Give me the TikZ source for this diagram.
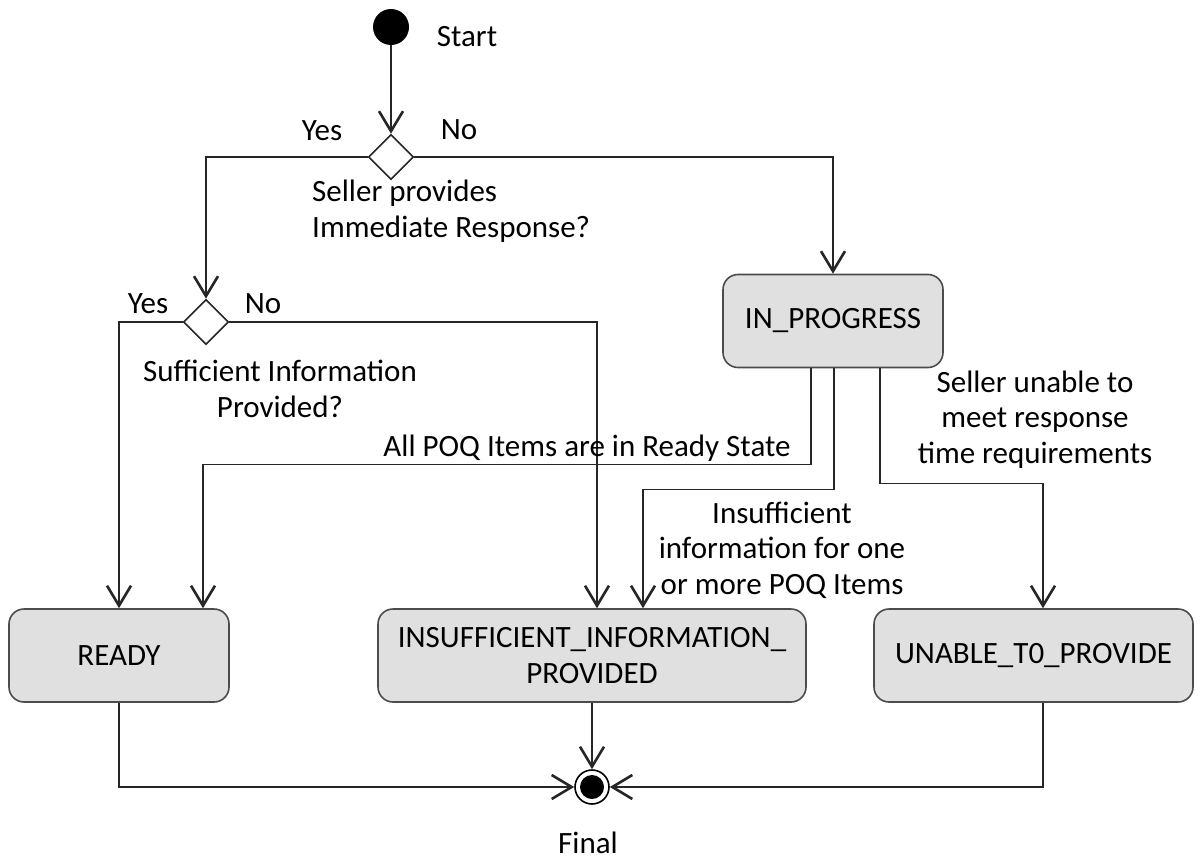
\documentclass[tikz,border=0pt]{standalone}
\usepackage{fontspec}
\setmainfont{Carlito}
\usetikzlibrary{shapes.geometric,arrows.meta}
\begin{document}
\begin{tikzpicture}[x=1pt,y=-1pt,
  every node/.style={font=\fontsize{31}{35.5}\selectfont, inner sep=0pt},
  line/.style={draw=black!85, line width=1.6pt},
  arr/.style={line, -{Straight Barb[length=20pt,width=24pt,line width=2.6pt]}},
  statebox/.style={draw=black!70, line width=1.6pt, fill=black!12, rounded corners=15pt, minimum height=93pt, align=center},
  decision/.style={diamond, draw=black!85, line width=1.6pt, fill=white, minimum width=45pt, minimum height=45pt, inner sep=0pt},
  lbl/.style={anchor=base, align=center}
]
\useasboundingbox (0,0) rectangle (1202,859);

\node[circle, fill=black, minimum size=36pt] (start) at (391,27) {};
\node[lbl] (startl) at (467,47) {Start};

\node[decision] (d1) at (391,157) {};
\node[lbl] (yes1) at (322,140) {Yes};
\node[lbl] (no1) at (459,139) {No};
\node[lbl, align=left, anchor=base west] (q1) at (312,237) {Seller provides\\Immediate Response?};

\node[decision] (d2) at (206,322) {};
\node[lbl] (yes2) at (148,313) {Yes};
\node[lbl] (no2) at (263,313) {No};
\node[lbl] (q2) at (280,417) {Sufficient Information\\Provided?};

\node[statebox, minimum width=220pt] (prog) at (833,321) {IN\_PROGRESS};
\node[statebox, minimum width=220pt] (ready) at (119,655.5) {READY};
\node[statebox, minimum width=428pt] (insuf) at (592,655.5) {INSUFFICIENT\_INFORMATION\_\\PROVIDED};
\node[statebox, minimum width=319pt] (unable) at (1033.5,655.5) {UNABLE\_T0\_PROVIDE};

\node[circle, draw=black, line width=1.6pt, minimum size=34pt, fill=white] (final) at (592,787) {};
\node[circle, fill=black, minimum size=24pt] (finaldot) at (final.center) {};
\node[lbl] (finall) at (588,853) {Final};

\draw[arr] (start) -- (d1);
\draw[arr] (d1.west) -| (d2.north);
\draw[arr] (d1.east) -| (prog.north);
\draw[arr] (d2.west) -| (ready.north);
\draw[arr] (d2.east) -| ([xshift=5pt]insuf.north);

\draw[arr] ([xshift=-22pt]prog.south) -- ++(0,96) -| ([xshift=84pt]ready.north);
\node[lbl] (allready) at (587,456) {All POQ Items are in Ready State};

\draw[arr] ([xshift=1pt]prog.south) -- ++(0,121) -| ([xshift=51pt]insuf.north);
\node[lbl] (insufl) at (782,594) {Insufficient\\information for one\\or more POQ Items};

\draw[arr] ([xshift=47pt]prog.south) -- ++(0,115) -| ([xshift=9.5pt]unable.north);
\node[lbl] (unablel) at (1035,463) {Seller unable to\\meet response\\time requirements};

\draw[arr] (ready.south) |- (final.west);
\draw[arr] (insuf.south) -- (final.north);
\draw[arr] ([xshift=9.5pt]unable.south) |- (final.east);
\end{tikzpicture}
\end{document}
